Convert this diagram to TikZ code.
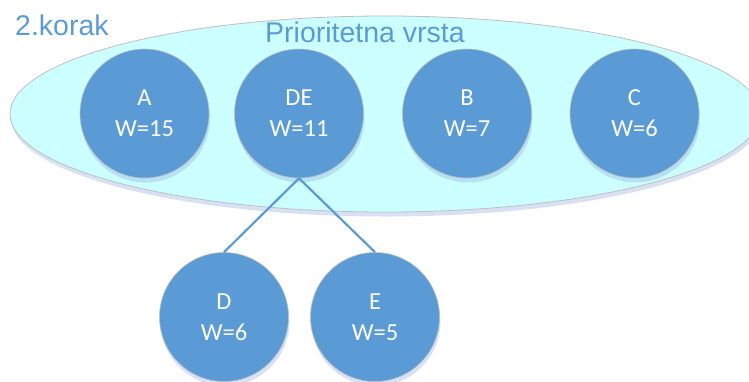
\documentclass[tikz,border=0pt]{standalone}
\usepackage{fontspec}
\setmainfont{Carlito}
\newfontfamily\headfont{Liberation Sans}
\usetikzlibrary{shapes.geometric,shadows}

\definecolor{nodeblue}{HTML}{5B9BD5}
\definecolor{queuefill}{HTML}{CCFFFF}
\definecolor{rimgrey}{HTML}{BFBFBF}
\definecolor{shadeblue}{HTML}{8FAADC}

\tikzset{
  softshadow/.style={drop shadow={shadow xshift=1pt, shadow yshift=-4.5pt,
      fill=shadeblue, opacity=0.35}},
  queue/.style={ellipse, draw=rimgrey, line width=0.8pt, fill=queuefill,
      inner sep=0pt, softshadow},
  weightnode/.style={circle, draw=rimgrey, line width=0.6pt, fill=nodeblue,
      minimum size=129pt, inner sep=0pt, text=white, align=center,
      font=\fontsize{24.5}{31}\selectfont, softshadow},
  heading/.style={text=nodeblue, inner sep=0pt, font=\headfont\fontsize{28.5}{30}\selectfont},
  link/.style={draw=nodeblue, line width=2.2pt},
}

\begin{document}
\begin{tikzpicture}[x=1pt,y=-1pt]
  \useasboundingbox (0,0) rectangle (749,381);
  \clip (0,0) rectangle (749,381);

  % priority queue container
  \node[queue, minimum width=750pt, minimum height=196pt] (pq) at (385,114) {};
  \node[heading, anchor=base] (pqtitle) at (365,42.7) {Prioritetna vrsta};
  \node[heading, anchor=base west] (step) at (15,35) {2.korak};

  % elements currently in the queue
  \node[weightnode] (A)  at (144.5,113.5) {A\\W=15};
  \node[weightnode] (DE) at (299,113.5)   {DE\\W=11};
  \node[weightnode] (B)  at (467,113.5)   {B\\W=7};
  \node[weightnode] (C)  at (634.5,113.5) {C\\W=6};

  % children of the merged node
  \node[weightnode] (D) at (224,317) {D\\W=6};
  \node[weightnode] (E) at (375,317) {E\\W=5};

  \draw[link] (DE.south) -- (D.north);
  \draw[link] (DE.south) -- (E.north);
\end{tikzpicture}
\end{document}
